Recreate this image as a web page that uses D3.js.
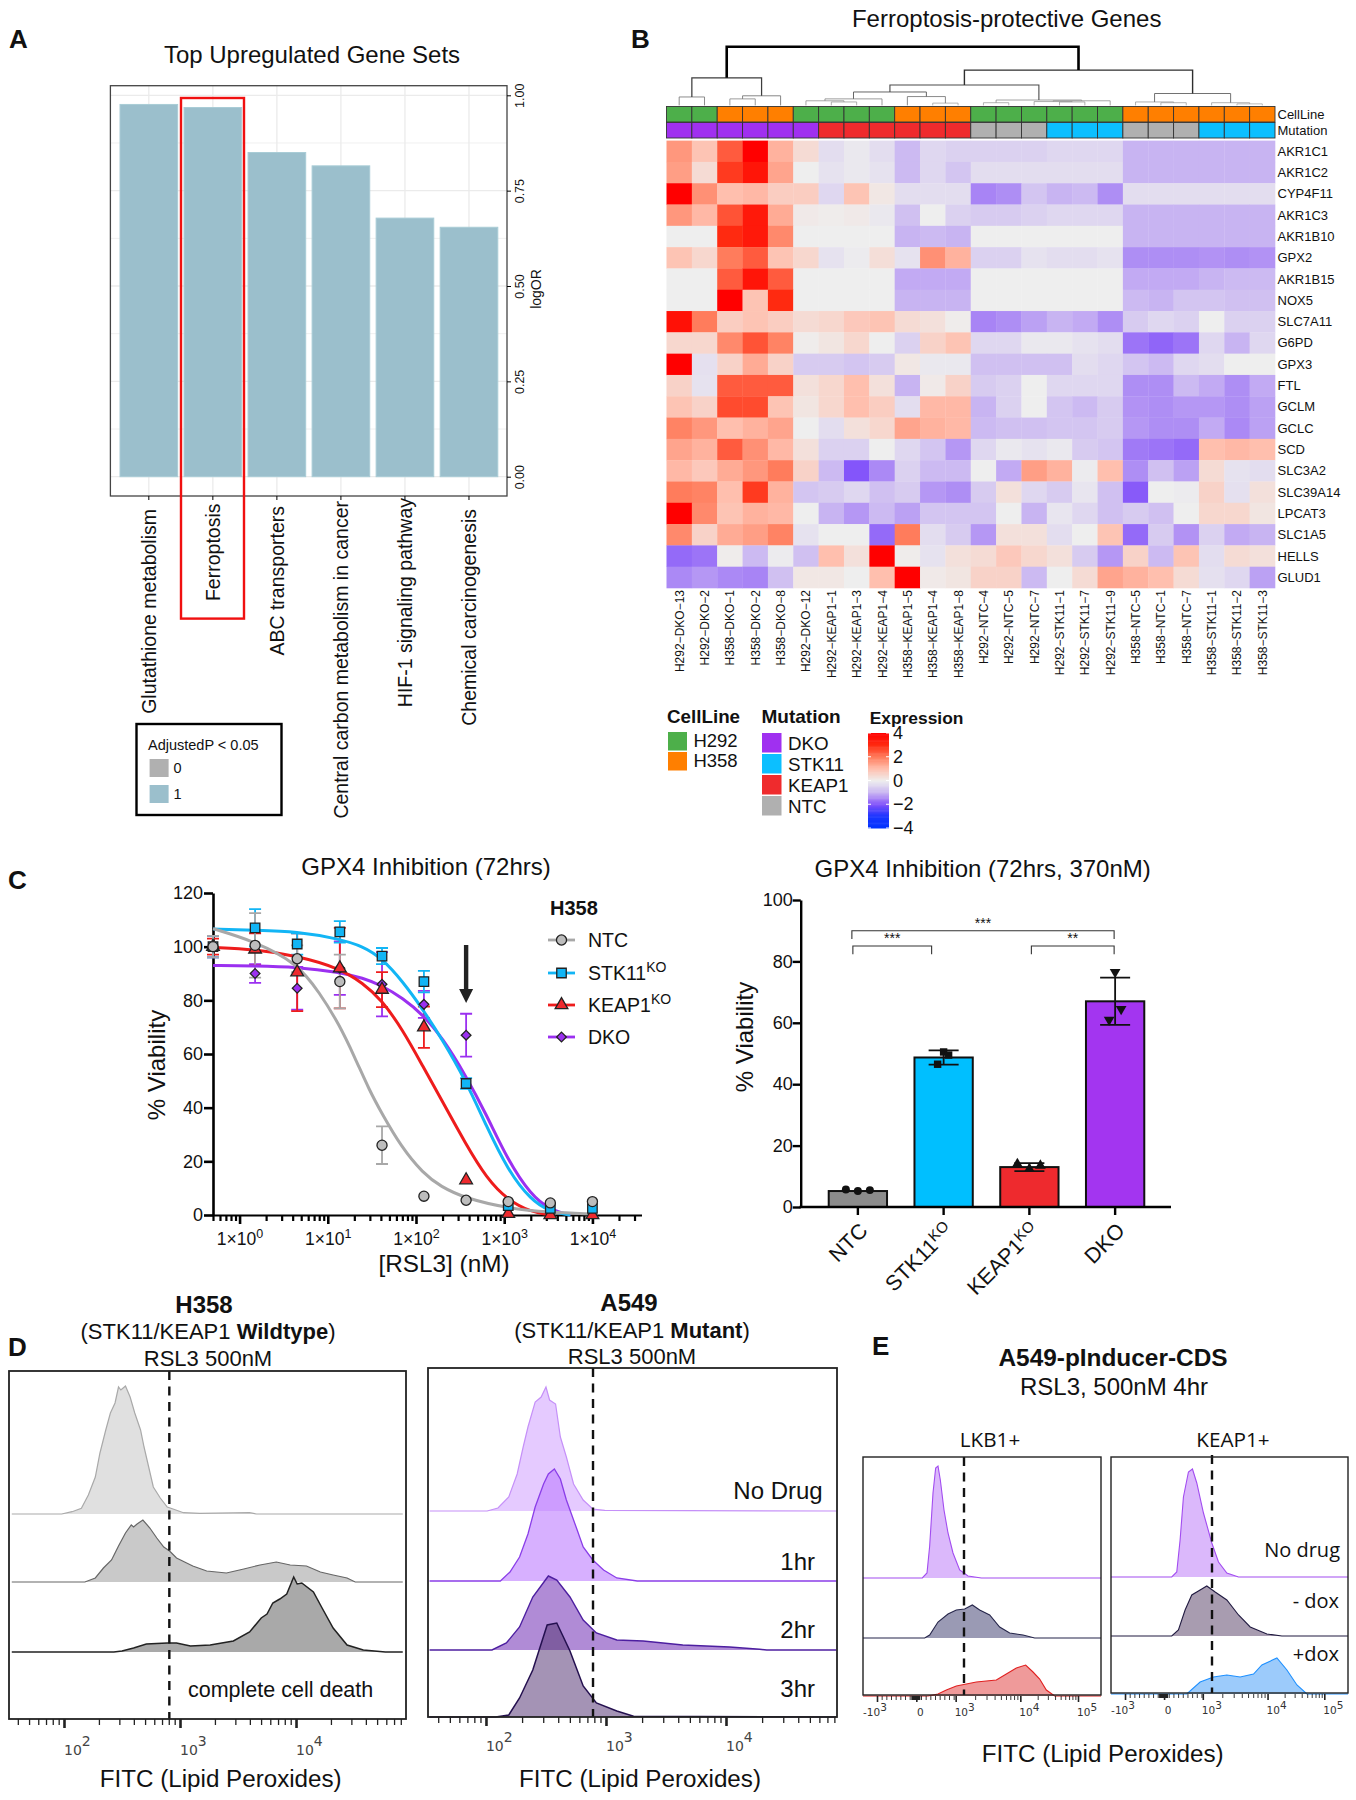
<!DOCTYPE html>
<html><head><meta charset="utf-8">
<script src="https://cdn.jsdelivr.net/npm/d3@7/dist/d3.min.js"></script>
<style>html,body{margin:0;padding:0;background:#fff}svg{display:block}text{font-family:"Liberation Sans",Arial,sans-serif;fill:#111}</style>
</head><body><svg id="fig" width="1356" height="1800" viewBox="0 0 1356 1800"></svg>
<script>
// ---------- Panel A data
const geneSets=["Glutathione metabolism","Ferroptosis","ABC transporters","Central carbon metabolism in cancer","HIF-1 signaling pathway","Chemical carcinogenesis"];
const logOR=[0.976,0.968,0.85,0.815,0.678,0.654];
const logORTicks=[0,0.25,0.5,0.75,1];
const logORMinor=[0.125,0.375,0.625,0.875];
// ---------- Panel B data
const sampleNames=["H292-DKO-13","H292-DKO-2","H358-DKO-1","H358-DKO-2","H358-DKO-8","H292-DKO-12","H292-KEAP1-1","H292-KEAP1-3","H292-KEAP1-4","H358-KEAP1-5","H358-KEAP1-4","H358-KEAP1-8","H292-NTC-4","H292-NTC-5","H292-NTC-7","H292-STK11-1","H292-STK11-7","H292-STK11-9","H358-NTC-5","H358-NTC-1","H358-NTC-7","H358-STK11-1","H358-STK11-2","H358-STK11-3"];
const geneNames=["AKR1C1","AKR1C2","CYP4F11","AKR1C3","AKR1B10","GPX2","AKR1B15","NOX5","SLC7A11","G6PD","GPX3","FTL","GCLM","GCLC","SCD","SLC3A2","SLC39A14","LPCAT3","SLC1A5","HELLS","GLUD1"];
const expression=[
[1.6,.9,2.4,4,1.2,.4,-.3,-.1,-.3,-.9,-.4,-.5,-.5,-.5,-.5,-.4,-.4,-.4,-1,-1,-1,-1,-1,-1],
[1.5,.4,2.8,3.5,1.4,0,-.2,-.1,-.2,-.9,-.4,-.7,-.3,-.3,-.3,-.3,-.3,-.3,-1,-1,-1,-1,-1,-1],
[4,1.7,1,1.1,.7,.7,-.4,.9,.15,-.3,-.3,-.3,-1.5,-1.4,-.7,-1,-.9,-1.4,-.3,-.3,-.3,-.3,-.3,-.3],
[1.6,1.1,2.5,3.4,1.3,.1,.05,.1,-.1,-.8,0,-.5,-.6,-.6,-.5,-.4,-.4,-.4,-1,-1,-1,-1,-1,-1],
[0,0,3,3.4,1.8,0,0,0,0,-1,-.9,-1,0,0,0,0,0,0,-1,-1,-1,-1,-1,-1],
[.9,.5,2,2.4,.9,.5,-.2,-.05,.35,-.2,1.7,1.2,-.5,-.5,-.2,-.3,-.3,-.2,-1.4,-1.4,-1.4,-1.35,-1.4,-1.35],
[0,0,2.4,3.5,2.4,0,0,0,0,-1.1,-1.1,-1.1,0,0,0,0,0,0,-1.1,-1.1,-1.1,-1,-.9,-.9],
[0,0,4,.9,3,0,0,0,0,-1,-1,-1,0,0,0,0,0,0,-.9,-1,-.7,-.7,-.8,-.8],
[3.6,2,.7,.9,.7,.4,.5,.8,.9,.4,.3,.05,-1.5,-1.4,-1.2,-1,-1.1,-1.4,-.6,-.4,-.5,0,-.5,-.5],
[.5,.5,1.8,2.5,1.9,.05,.2,.5,0,-.5,.6,.9,-.4,-.4,-.1,-.1,-.2,-.3,-1.65,-1.8,-1.65,-.4,-1,-.4],
[4,-.25,.6,1.3,.6,-.6,-.6,-.7,-.6,.15,-.1,-.1,-.8,-.8,-.8,-.8,-.3,-.4,-.7,-.9,-.4,-.3,0,0],
[.6,-.2,2.4,2.4,2.4,.3,.5,1,.3,-1,.1,.6,-.6,-.5,0,-.4,-.4,-.4,-1.4,-1.4,-.9,-1.1,-1.4,-1.1],
[.9,.6,2.6,2.6,.9,.2,.5,1,.7,-.3,1.1,1.1,-1,-.5,0,-.7,-.9,-.6,-1.35,-1.4,-1.3,-1.3,-1.4,-1.2],
[1.9,1.6,1,1.2,1.4,0,-.3,.3,.5,1.4,1.2,1.1,-.9,-.8,-.8,-.7,-.7,-.6,-1.3,-1.4,-1.4,-1.1,-1.45,-1.2],
[1.4,1.2,2.4,1.7,1.1,.3,-.5,-.5,0,-.4,-.7,-1.3,-.4,-.1,-.2,-.1,-.6,-.7,-1.6,-1.65,-1.75,1,1.1,1],
[1.1,.8,1.3,1.6,2,.6,-.9,-1.95,-1.45,-.5,-.9,-.9,0,-1.1,1.5,1.2,-.05,1,-1.4,-.8,-1.2,.4,-.2,-.3],
[2,1.9,1,2.8,1.2,-.7,-.6,-.4,-.8,-.6,-1.3,-1.4,-.6,.3,-.4,-.6,-.15,-.8,-1.9,0,-.05,.6,-.25,.3],
[4,1.8,.9,1.2,1.1,0,-1,-1.3,-.9,-1.2,-.7,-.7,-.7,0,-1,-.15,-.4,-.8,-.6,-.8,0,.5,.5,.2],
[1.8,.6,1.3,1.5,1.9,-.2,0,0,-1.75,2,-.3,-.6,-1.3,.3,.3,-.3,0,.9,-1.75,-.6,-1.35,-.5,-1.1,-1],
[-1.75,-1.65,.05,-.9,-.05,-.8,1,.3,4,.05,-.2,.3,.4,.8,.5,.3,-.6,-1.3,.6,-.9,.9,-.3,.4,.3],
[-1.45,-1.3,-1.45,-1.5,-.8,.15,.15,0,1,4,.1,.2,.6,.6,-.9,0,.4,1.4,1.2,1,.4,-.25,-.4,-1.2]];
const expressionStops=[-4,-3,-2,-1.5,-1,0,1,2,3,4];
const expressionColors=["#0033ff","#1a35ff","#8050fa","#a884f5","#c8b4f2","#eeeeee","#ffbfae","#ff7c5c","#ff2a10","#ff0000"];
// dendrogram merges: [child, child, height]; a number is a leaf, "nK" is merge K
const merges=[[0,1,22],[2,3,17],["n1",4,25],["n0","n2",72],[6,7,9],[5,"n4",12],["n5",8,17],[10,11,6],[9,"n7",23],["n6","n8",35],[12,13,7],[15,16,9],[14,"n11",10],["n12",17,12],["n10","n13",14],["n9","n14",53],[19,20,7],[18,"n16",9],[22,23,4],[21,"n18",7],["n17","n19",31],["n15","n20",92],["n3","n21",153]];
const cellLines=["H292","H358"];
const mutations=["DKO","STK11","KEAP1","NTC"];
// ---------- Panel C data
const rsl3Dose=[0.5,1.5,4.5,13.7,41.2,123,370,1111,3333,10000];
const ntcMean=[100,100.5,95.5,87,26,7,5.5,5,4.5,5], ntcErr=[4,12,5,10,7,0,0,0,0,0];
const stkMean=[100,107,101,105.5,96.5,87,49,3.5,2.5,2.5], stkErr=[4,7,4,4,3,4,2,0,0,0];
const keapMean=[100,99,90.5,92,84,70,13,.5,0,0], keapErr=[3,6,14.5,15,6.5,7.7,0,0,0,0];
const dkoMean=[100,90,84.5,92,86,78.5,67], dkoErr=[4,3.5,8,10,12,5,8];
const ntcCurve=[[-.3,106.7],[.17,102],[.65,94],[.91,82.7],[1.13,71],[1.31,58.5],[1.47,46.6],[1.61,38],[1.83,25.5],[2.08,15.5],[2.28,10.6],[2.56,6.2],[3.04,2.5],[3.52,.9],[3.99,.4]];
const stkCurve=[[-.3,106.6],[.17,106.1],[.65,105.7],[1.13,102.9],[1.4,100.1],[1.61,95.8],[1.85,87],[2.08,76.5],[2.3,65.3],[2.56,50.4],[2.8,33],[3.04,16.8],[3.3,5.6],[3.52,1.2],[3.75,0]];
const dkoCurve=[[-.3,93],[.17,92.8],[.65,92.4],[1.13,90.5],[1.4,88.3],[1.61,85.6],[1.85,80.8],[2.08,74.6],[2.3,66],[2.56,52.2],[2.8,37.3],[3.04,20.5],[3.3,7.5],[3.52,1.9],[3.75,0]];
const keapCurve=[[-.3,99.7],[.17,99],[.65,96.6],[1.13,92],[1.4,86.4],[1.61,80.2],[1.85,69],[2.08,55.3],[2.28,43.5],[2.56,26.7],[2.8,13.7],[3.04,5.6],[3.3,1.2],[3.52,0]];
const viabilityTicks=[0,20,40,60,80,100,120];
// ---------- Panel C right data
const barGroups=["NTC","STK11","KEAP1","DKO"];
const barMeans=[5.2,48.7,13,67];
const barErrs=[0,2.3,1.3,7.7];
const barReplicates=[[5.7,5.2,5.5],[50.5,49.5,46.5],[14,12.4,13.5],[76.5,64.5,61]];
const barTicks=[0,20,40,60,80,100];
const brackets=[["NTC","DKO",90,"***"],["NTC","STK11",85,"***"],["KEAP1","DKO",85,"**"]];
// ---------- Panel D data: [log10 FITC, count]
const h358None=[[1.98,0],[2.07,2.3],[2.15,5.7],[2.21,19],[2.27,37],[2.31,61],[2.36,84],[2.40,101],[2.44,111],[2.47,127],[2.49,124],[2.51,126],[2.53,128],[2.57,117],[2.61,101],[2.66,84],[2.69,67],[2.73,47],[2.77,27],[2.83,16],[2.89,7],[2.94,5],[3.03,1.3],[3.17,.7],[3.60,1.3],[3.66,0]];
const h358Mid=[[2.18,0],[2.27,4],[2.34,14],[2.41,22],[2.47,36],[2.53,49],[2.58,57],[2.60,55],[2.63,58],[2.68,62],[2.74,54],[2.80,44],[2.86,35],[2.91,31],[2.97,24],[3.04,20],[3.11,16],[3.23,11],[3.40,9],[3.55,13],[3.69,17],[3.83,20],[3.95,17],[4.09,16],[4.21,10],[4.32,7],[4.44,4],[4.51,0]];
const h358Late=[[2.43,0],[2.50,1],[2.60,4],[2.71,8],[2.89,9],[2.97,9],[3.09,6],[3.26,7],[3.46,11],[3.60,20],[3.70,34],[3.75,38],[3.80,49],[3.86,53],[3.92,58],[3.98,75],[4.01,68],[4.05,69],[4.15,60],[4.22,45],[4.32,24],[4.44,7],[4.58,2],[4.77,0]];
const a549None=[[2.01,0],[2.10,3],[2.19,14],[2.26,37],[2.31,64],[2.35,84],[2.41,109],[2.46,114],[2.50,124],[2.53,111],[2.58,107],[2.62,74],[2.67,54],[2.73,27],[2.81,11],[2.89,2],[2.99,.7]];
const a5491hr=[[2.12,0],[2.20,9],[2.28,24],[2.35,47],[2.41,74],[2.48,97],[2.52,107],[2.57,112],[2.62,102],[2.67,81],[2.76,51],[2.81,34],[2.89,21],[2.98,11],[3.09,3],[3.26,0]];
const a5492hr=[[2.05,0],[2.17,7],[2.28,23],[2.39,53],[2.52,74],[2.59,70],[2.70,53],[2.81,30],[2.92,17],[3.09,10],[3.31,9],[3.64,5],[4.03,3],[4.28,.7],[4.34,0]];
const a5493hr=[[2.08,0],[2.19,2],[2.28,19],[2.39,47],[2.51,92],[2.59,94],[2.70,66],[2.81,31],[2.92,14],[3.09,6],[3.23,.7]];
const decadeTicks=[2,3,4];
// ---------- Panel E data: [display channel, count]
const lkbNoDrug=[[178,0],[192,5],[200,32],[210,85],[218,110],[225,112],[232,98],[243,68],[255,45],[270,25],[290,8],[315,2],[355,0]];
const lkbMinus=[[185,0],[200,3],[225,16],[255,24],[280,28],[305,29],[328,33],[350,28],[380,23],[410,11],[440,5],[480,3],[515,0]];
const lkbPlus=[[195,0],[225,2],[250,6],[280,10],[340,14],[400,16],[430,22],[460,28],[488,31],[510,24],[530,17],[550,6],[575,0]];
const keapNoDrug=[[182,0],[197,5],[207,37],[217,80],[232,105],[244,108],[257,94],[277,64],[302,34],[322,15],[347,4],[382,0]];
const keapMinus=[[182,0],[202,6],[222,26],[242,41],[267,46],[287,50],[312,44],[347,36],[382,21],[417,9],[467,2],[512,0]];
const keapPlus=[[227,0],[267,12],[307,17],[347,19],[387,17],[427,20],[452,29],[497,36],[527,24],[557,9],[587,0]];
const biexTickLabels=["-10","0","10","10","10"], biexTickExp=["3","","3","4","5"];
const biexTickChannels=[42,160,278,472,645];
const biexTickChannelsRight=[42,159,275,469,639];

const svg=d3.select("#fig");
function T(g,x,y,s,o={}){const t=g.append("text").attr("x",x).attr("y",y).text(s).attr("font-size",o.size||14).attr("text-anchor",o.anchor||"start");
  if(o.weight)t.attr("font-weight",o.weight); if(o.family)t.style("font-family",o.family); if(o.fill)t.style("fill",o.fill); if(o.rot!==undefined)t.attr("transform",`rotate(${o.rot},${x},${y})`); return t;}
function sup(t,s,size,dy){t.append("tspan").attr("dy",dy).attr("font-size",size).text(s);return t;}
function styleAxis(g,size){g.attr("font-size",size).attr("font-family","Liberation Sans");g.selectAll("text").style("fill","#111");return g;}

// ===== Panel labels
[["A",9,48],["B",631,48],["C",8,889],["D",8,1356],["E",872,1355]].forEach(d=>T(svg,d[1],d[2],d[0],{size:26,weight:"bold"}));

// ===== Panel A
(function(){const g=svg.append("g");
 const x=d3.scaleBand().domain(geneSets).range([116.8,501]).paddingInner(.1).paddingOuter(.05);
 const y=d3.scaleLinear().domain([0,1]).range([476.7,95.3]);
 T(g,312,63,"Top Upregulated Gene Sets",{size:24,anchor:"middle"});
 logORMinor.forEach(v=>g.append("line").attr("x1",111).attr("x2",507).attr("y1",y(v)).attr("y2",y(v)).attr("stroke","#f0f0f0"));
 logORTicks.forEach(v=>g.append("line").attr("x1",111).attr("x2",507).attr("y1",y(v)).attr("y2",y(v)).attr("stroke","#ebebeb").attr("stroke-width",1.3));
 geneSets.forEach(c=>{const cx=x(c)+x.bandwidth()/2;g.append("line").attr("x1",cx).attr("x2",cx).attr("y1",86).attr("y2",496).attr("stroke","#ebebeb").attr("stroke-width",1.3);});
 g.selectAll("rect.b").data(geneSets).enter().append("rect").attr("x",d=>x(d)).attr("width",x.bandwidth()).attr("y",(d,i)=>y(logOR[i])).attr("height",(d,i)=>y(0)-y(logOR[i])).attr("fill","#9bbfcc").attr("stroke","#a9ccd6");
 g.append("rect").attr("x",110.4).attr("y",85.7).attr("width",396.6).attr("height",410.3).attr("fill","none").attr("stroke","#444").attr("stroke-width",1.3);
 const ax=g.append("g").attr("transform","translate(507,0)").call(d3.axisRight(y).tickValues(logORTicks).tickFormat(d3.format(".2f")).tickSize(4).tickSizeOuter(0));
 ax.select(".domain").remove(); styleAxis(ax,12.5);
 ax.selectAll("text").attr("transform","rotate(-90)").attr("x",0).attr("y",13).attr("dy",".32em").attr("text-anchor","middle");
 T(g,541,289,"logOR",{size:14,anchor:"middle",rot:-90});
 const tops=[509,503.5,506,501,498,509];
 const ax2=g.append("g").attr("transform","translate(0,496)").call(d3.axisBottom(x).tickSize(4).tickSizeOuter(0).tickFormat(""));
 ax2.select(".domain").remove();
 geneSets.forEach((c,i)=>T(g,x(c)+x.bandwidth()/2+7,tops[i],c,{size:19.5,anchor:"end",rot:-90}));
 g.append("rect").attr("x",181).attr("y",98).attr("width",63).attr("height",520.6).attr("fill","none").attr("stroke","#f01010").attr("stroke-width",2.4);
 g.append("rect").attr("x",136.5).attr("y",724).attr("width",145).attr("height",91).attr("fill","#fff").attr("stroke","#000").attr("stroke-width",2.4);
 T(g,148,750,"AdjustedP < 0.05",{size:14.5});
 [[759,"#b0b0b0","0"],[785,"#9bbfcc","1"]].forEach(d=>{g.append("rect").attr("x",149.6).attr("y",d[0]).attr("width",19).attr("height",18).attr("fill",d[1]);T(g,173.5,d[0]+14,d[2],{size:14.5});});
})();

// ===== Panel B
(function(){const g=svg.append("g");
 const x=d3.scaleBand().domain(d3.range(sampleNames.length)).range([666.5,1275]);
 const yH=d3.scaleBand().domain(geneNames).range([140.6,588]);
 const col=d3.scaleLinear().domain(expressionStops).range(expressionColors);
 const lineCol=d3.scaleOrdinal().domain(cellLines).range(["#4daf4a","#ff7f00"]);
 const mutCol=d3.scaleOrdinal().domain(mutations).range(["#a030f0","#0cbfff","#ef2b2d","#b0b0b0"]);
 T(g,1006.7,27,"Ferroptosis-protective Genes",{size:24,anchor:"middle"});
 // dendrogram
 const yD=d3.scaleLinear().domain([0,153]).range([105.4,46.7]);
 const nodes=[];
 const pos=k=>typeof k==="number"?{x:x(k)+x.bandwidth()/2,h:0}:nodes[+k.slice(1)];
 const w=d3.scaleLinear().domain([0,92,153]).range([.7,1.4,2.6]);
 const dc=d3.scaleLinear().domain([0,40,153]).range(["#aaa","#555","#000"]);
 merges.forEach(m=>{const a=pos(m[0]),b=pos(m[1]);nodes.push({x:(a.x+b.x)/2,h:m[2]});
  g.append("path").attr("fill","none").attr("stroke",dc(m[2])).attr("stroke-width",w(m[2]))
   .attr("d",d3.line()([[a.x,yD(a.h)],[a.x,yD(m[2])],[b.x,yD(m[2])],[b.x,yD(b.h)]]));});
 // annotations
 sampleNames.forEach((s,i)=>{const p=s.split("-");
  g.append("rect").attr("x",x(i)).attr("y",106.5).attr("width",x.bandwidth()).attr("height",15.5).attr("fill",lineCol(p[0])).attr("stroke","#333").attr("stroke-width",.9);
  g.append("rect").attr("x",x(i)).attr("y",122.5).attr("width",x.bandwidth()).attr("height",15.5).attr("fill",mutCol(p[1])).attr("stroke","#333").attr("stroke-width",.9);
  T(g,x(i)+x.bandwidth()/2+4.5,590,s.replace(/-/g,"\u2212"),{size:12,anchor:"end",rot:-90});
 });
 T(g,1277.5,118.5,"CellLine",{size:13}); T(g,1277.5,134.5,"Mutation",{size:13});
 geneNames.forEach((n,r)=>{sampleNames.forEach((s,c)=>{
  g.append("rect").attr("x",x(c)).attr("y",yH(n)).attr("width",x.bandwidth()+.3).attr("height",yH.bandwidth()+.3).attr("fill",col(expression[r][c]));});
  T(g,1277.5,yH(n)+yH.bandwidth()/2+4.5,n,{size:13});});
 // legends
 T(g,667,723,"CellLine",{size:18.8,weight:"bold"});
 cellLines.forEach((c,i)=>{g.append("rect").attr("x",668).attr("y",732+i*20).attr("width",19).attr("height",18.5).attr("fill",lineCol(c));T(g,693.4,747+i*20,c,{size:18.5});});
 T(g,761.5,723,"Mutation",{size:19,weight:"bold"});
 mutations.forEach((c,i)=>{g.append("rect").attr("x",762).attr("y",733+i*21).attr("width",19.5).attr("height",19.5).attr("fill",mutCol(c));T(g,788,750+i*21,c,{size:18.8});});
 T(g,869.7,724,"Expression",{size:17.4,weight:"bold"});
 const yC=d3.scaleLinear().domain([4,-4]).range([733,828]);
 d3.range(-4,4,.1).forEach(v=>g.append("rect").attr("x",868).attr("y",yC(v+.1)).attr("width",21).attr("height",yC(v)-yC(v+.1)+.5).attr("fill",col(v+.05)));
 [-4,-2,0,2,4].forEach(v=>{[[868,871],[886,889]].forEach(k=>g.append("line").attr("x1",k[0]).attr("x2",k[1]).attr("y1",yC(v)).attr("y2",yC(v)).attr("stroke","#fff"));
  T(g,893,yC(v)+6,v<0?"\u2212"+(-v):String(v),{size:18});});
})();

// ===== Panel C left
(function(){const g=svg.append("g");
 const x=d3.scaleLog().domain([.5,36000]).range([213,641.5]);
 const y=d3.scaleLinear().domain([0,120]).range([1215,893]);
 T(g,426,875,"GPX4 Inhibition (72hrs)",{size:24,anchor:"middle"});
 T(g,157,1065,"% Viability",{size:24,anchor:"middle",rot:-90}).attr("dy",8);
 T(g,444,1272,"[RSL3] (nM)",{size:24.3,anchor:"middle"});
 const ax=g.append("g").attr("transform","translate(213,0)").call(d3.axisLeft(y).tickValues(viabilityTicks).tickSize(9).tickSizeOuter(0));
 styleAxis(ax,18); ax.selectAll("line,path").attr("stroke","#000").attr("stroke-width",2.6); ax.selectAll("text").attr("x",-10);
 const minor=[];[0,1,2,3,4].forEach(k=>[1,2,3,4,5,6,7,8,9].forEach(m=>{const v=m*Math.pow(10,k);if(m>1&&v<36000)minor.push(v);}));
 minor.push(.6,.7,.8,.9,.5);
 const bx=g.append("g").attr("transform","translate(0,1215)");
 bx.call(d3.axisBottom(x).tickValues(minor).tickSize(6).tickSizeOuter(0).tickFormat(""));
 bx.selectAll("line,path").attr("stroke","#000").attr("stroke-width",2.2);
 const mx=g.append("g").attr("transform","translate(0,1215)").call(d3.axisBottom(x).tickValues([1,10,100,1000,10000]).tickSize(9).tickSizeOuter(0).tickPadding(9));
 mx.select(".domain").remove(); styleAxis(mx,17.5); mx.selectAll("line").attr("stroke","#000").attr("stroke-width",2.6);
 mx.selectAll(".tick text").each(function(d,i){const t=d3.select(this).text("1\u00d710");sup(t,String(i),12.5,-7);});
 const line=d3.line().x(d=>x(Math.pow(10,d[0]))).y(d=>y(d[1])).curve(d3.curveBasis);
 const series=[
  {n:"DKO",c:"#9b30f0",m:dkoMean,e:dkoErr,cv:dkoCurve,sym:d3.symbolDiamond2,f:"#9b30f0",ss:60},
  {n:"KEAP1",c:"#ee1c1c",m:keapMean,e:keapErr,cv:keapCurve,sym:d3.symbolTriangle,f:"#ee2a2e",ss:70},
  {n:"STK11",c:"#12b5f5",m:stkMean,e:stkErr,cv:stkCurve,sym:d3.symbolSquare,f:"#12b5f5",ss:90},
  {n:"NTC",c:"#a8a8a8",m:ntcMean,e:ntcErr,cv:ntcCurve,sym:d3.symbolCircle,f:"#bdbdbd",ss:80}];
 series.forEach(s=>{
  s.m.forEach((v,i)=>{if(!s.e[i])return;const X=x(rsl3Dose[i]);const hi=y(v+s.e[i]),lo=y(v-s.e[i]);
   g.append("path").attr("fill","none").attr("stroke",s.c).attr("stroke-width",1.8)
    .attr("d",d3.line()([[X-6,hi],[X+6,hi]])+d3.line()([[X,hi],[X,lo]])+d3.line()([[X-6,lo],[X+6,lo]]));});
 });
 series.forEach(s=>g.append("path").attr("d",line(s.cv)).attr("fill","none").attr("stroke",s.c).attr("stroke-width",3));
 series.forEach(s=>{s.m.forEach((v,i)=>g.append("path").attr("d",d3.symbol(s.sym,s.ss)()).attr("transform",`translate(${x(rsl3Dose[i])},${y(v)})`).attr("fill",s.f).attr("stroke","#222").attr("stroke-width",1.3));});
 // arrow
 const ax0=x(rsl3Dose[6]);
 g.append("path").attr("d",d3.line()([[ax0-2.2,945],[ax0+2.2,945],[ax0+2.2,989],[ax0+7,989],[ax0,1003],[ax0-7,989],[ax0-2.2,989]])+"Z").attr("fill","#222");
 // legend
 T(g,550,915,"H358",{size:20,weight:"bold"});
 [[940,"NTC","",3],[973,"STK11","KO",2],[1005,"KEAP1","KO",1],[1037,"DKO","",0]].forEach(d=>{const s=series[d[3]];
  g.append("line").attr("x1",548).attr("x2",575).attr("y1",d[0]).attr("y2",d[0]).attr("stroke",s.c).attr("stroke-width",2.8);
  g.append("path").attr("d",d3.symbol(s.sym,s.ss)()).attr("transform",`translate(561.5,${d[0]})`).attr("fill",s.f).attr("stroke","#222").attr("stroke-width",1.3);
  const t=T(g,588,d[0]+7,d[1],{size:19.5}); if(d[2])sup(t,d[2],14,-8);});
})();

// ===== Panel C right
(function(){const g=svg.append("g");
 const x=d3.scaleBand().domain(barGroups).range([815,1158]).paddingInner(.32).paddingOuter(.16);
 const y=d3.scaleLinear().domain([0,100]).range([1207,900]);
 const fills=["#8c8c8c","#00bfff","#ee2a2e","#a335f0"];
 T(g,982.7,877,"GPX4 Inhibition (72hrs, 370nM)",{size:24,anchor:"middle"});
 T(g,745,1037,"% Viability",{size:24,anchor:"middle",rot:-90}).attr("dy",8);
 barGroups.forEach((c,i)=>{g.append("rect").attr("x",x(c)).attr("width",x.bandwidth()).attr("y",y(barMeans[i])).attr("height",y(0)-y(barMeans[i])).attr("fill",fills[i]).attr("stroke","#111").attr("stroke-width",2);});
 const syms=[d3.symbolCircle,d3.symbolSquare,d3.symbolTriangle,d3.symbolTriangle];
 const off=[[-12,0,12],[0,5,-6],[-12,0,11],[0,6,-6]];
 barGroups.forEach((c,i)=>{const cx=x(c)+x.bandwidth()/2;
  if(barErrs[i]){const hi=y(barMeans[i]+barErrs[i]),lo=y(barMeans[i]-barErrs[i]);
   g.append("path").attr("fill","none").attr("stroke","#111").attr("stroke-width",1.8).attr("d",d3.line()([[cx-15,hi],[cx+15,hi]])+d3.line()([[cx,hi],[cx,lo]])+d3.line()([[cx-15,lo],[cx+15,lo]]));}
  barReplicates[i].forEach((v,j)=>g.append("path").attr("d",d3.symbol(syms[i],i==1?55:50)()).attr("transform",`translate(${cx+off[i][j]},${y(v)})${i==3?" rotate(180)":""}`).attr("fill","#111"));
 });
 const ay=g.append("g").attr("transform","translate(800.7,0)").call(d3.axisLeft(y).tickValues(barTicks).tickSize(8).tickSizeOuter(0));
 styleAxis(ay,18); ay.selectAll("line,path").attr("stroke","#000").attr("stroke-width",2.4); ay.selectAll("text").attr("x",-8);
 const ax=g.append("g").attr("transform",`translate(0,${y(0)})`).call(d3.axisBottom(x).tickSize(8).tickSizeOuter(0).tickFormat(""));
 ax.select(".domain").remove(); ax.selectAll("line").attr("stroke","#000").attr("stroke-width",2.4);
 g.append("line").attr("x1",799.5).attr("x2",1171).attr("y1",y(0)).attr("y2",y(0)).attr("stroke","#000").attr("stroke-width",2.6);
 barGroups.forEach((c,i)=>{const cx=x(c)+x.bandwidth()/2;const t=T(g,cx+11,1232,c,{size:21.5,anchor:"end",rot:-45}); if(i==1||i==2)sup(t,"KO",15,-7);});
 const dx0={NTC:-6,STK11:-12,KEAP1:2,DKO:-1};
 brackets.forEach((b,i)=>{const a=x(b[0])+x.bandwidth()/2+(i==1?-5:dx0[b[0]]),e=x(b[1])+x.bandwidth()/2+dx0[b[1]],Y=y(b[2]),tip=y(b[2]-2.7);
  g.append("path").attr("fill","none").attr("stroke","#333").attr("stroke-width",1.1).attr("d",d3.line()([[a,tip],[a,Y],[e,Y],[e,tip]]));
  T(g,(a+e)/2,Y-3,b[3],{size:14,anchor:"middle"});});
})();

// ===== Histogram helpers
function hist(g,x,base,pts,fill,stroke,sw,left,right,op){
 const y=d3.scaleLinear().domain([0,130]).range([base,base-130]);
 const full=[[left,0]].concat(pts).concat([[right,0]]);
 g.append("path").attr("d",d3.area().x(d=>x(d[0])).y0(base).y1(d=>y(d[1]))(pts)).attr("fill",fill).attr("fill-opacity",op===undefined?1:op);
 g.append("path").attr("d",d3.line().x(d=>x(d[0])).y(d=>y(d[1]))(full)).attr("fill","none").attr("stroke",stroke).attr("stroke-width",sw);
}
function decadeAxis(g,xs,yb,labY){
 const lo=xs.domain()[0],hi=xs.domain()[1];
 const minor=[];[1,2,3,4,5].forEach(k=>[2,3,4,5,6,7,8,9].forEach(m=>{const v=m*Math.pow(10,k);if(Math.log10(v)>lo&&Math.log10(v)<hi)minor.push(Math.log10(v));}));
 const a=g.append("g").attr("transform",`translate(0,${yb})`).call(d3.axisBottom(xs).tickValues(minor).tickSize(6).tickSizeOuter(0).tickFormat(""));
 a.select(".domain").remove(); a.selectAll("line").attr("stroke","#222").attr("stroke-width",1.3);
 const b=g.append("g").attr("transform",`translate(0,${yb})`).call(d3.axisBottom(xs).tickValues(decadeTicks).tickSize(9).tickSizeOuter(0).tickFormat(""));
 b.select(".domain").remove(); b.selectAll("line").attr("stroke","#222").attr("stroke-width",2.6);
 decadeTicks.forEach(d=>{const t=T(g,xs(d),labY,"10",{size:14,family:"DejaVu Sans",fill:"#444"});sup(t,String(d),14,-9);});
}
function dash(g,X,y1,y2){g.append("line").attr("x1",X).attr("x2",X).attr("y1",y1).attr("y2",y2).attr("stroke","#111").attr("stroke-width",2.4).attr("stroke-dasharray","9,6.5");}

// ===== Panel D left
(function(){const g=svg.append("g");
 const x=d3.scaleLinear().domain([1.526,4.948]).range([9,406]);
 T(g,204,1312.7,"H358",{size:24,weight:"bold",anchor:"middle"});
 const t=T(g,208,1339,"(STK11/KEAP1 ",{size:22,anchor:"middle"}); t.append("tspan").attr("font-weight","bold").text("Wildtype"); t.append("tspan").text(")");
 T(g,208,1366,"RSL3 500nM",{size:22,anchor:"middle"});
 hist(g,x,1514,h358None,"#e0e0e0","#a9a9a9",1.2,1.55,4.92);
 hist(g,x,1582,h358Mid,"#c9c9c9","#666",1.2,1.55,4.92);
 hist(g,x,1652,h358Late,"#a9a9a9","#222",1.5,1.55,4.92);
 dash(g,x(2.908),1371,1719);
 T(g,188,1696.7,"complete cell death",{size:21.5});
 g.append("rect").attr("x",9).attr("y",1371).attr("width",397).attr("height",348).attr("fill","none").attr("stroke","#222").attr("stroke-width",1.8);
 decadeAxis(g,x,1719,1755);
 T(g,220.7,1787,"FITC (Lipid Peroxides)",{size:24.2,anchor:"middle"});
})();
// ===== Panel D right
(function(){const g=svg.append("g");
 const x=d3.scaleLinear().domain([1.517,4.925]).range([428,837]);
 T(g,629,1311,"A549",{size:24,weight:"bold",anchor:"middle"});
 const t=T(g,632,1338,"(STK11/KEAP1 ",{size:22,anchor:"middle"}); t.append("tspan").attr("font-weight","bold").text("Mutant"); t.append("tspan").text(")");
 T(g,632,1364,"RSL3 500nM",{size:22,anchor:"middle"});
 hist(g,x,1511,a549None,"#dcb8ff","#c590f8",1.2,1.53,4.92,.75);
 hist(g,x,1581,a5491hr,"#bf80ff","#8a3ee8",1.3,1.53,4.92,.62);
 hist(g,x,1650,a5492hr,"#8f5ac4","#4d1fa0",1.4,1.53,4.92,.7);
 hist(g,x,1717,a5493hr,"#5a3a78","#24104f",1.5,1.53,4.92,.55);
 dash(g,x(2.892),1368,1717);
 [["No Drug",1499],["1hr",1570],["2hr",1638],["3hr",1697]].forEach((d,i)=>T(g,i?815:822.7,d[1],d[0],{size:24,anchor:"end"}));
 g.append("rect").attr("x",428).attr("y",1368).attr("width",409).attr("height",349).attr("fill","none").attr("stroke","#222").attr("stroke-width",1.8);
 decadeAxis(g,x,1717,1751);
 T(g,640,1786.7,"FITC (Lipid Peroxides)",{size:24.2,anchor:"middle"});
})();
// ===== Panel E
function biexAxis(g,x,yb,labY,ticks){
 const minor=[];
 for(let v=ticks[0];v<ticks[1]-4;v+=14)minor.push(v);
 for(let v=ticks[1];v<ticks[2]-1;v+=14)minor.push(v);
 [[2,3],[3,4]].forEach(p=>[2,3,4,5,6,7,8,9].forEach(m=>minor.push(ticks[p[0]]+(ticks[p[1]]-ticks[p[0]])*Math.log10(m))));
 const a=g.append("g").attr("transform",`translate(0,${yb})`).call(d3.axisBottom(x).tickValues(minor).tickSize(4).tickSizeOuter(0).tickFormat(""));
 a.select(".domain").remove(); a.selectAll("line").attr("stroke","#222").attr("stroke-width",.9);
 const b=g.append("g").attr("transform",`translate(0,${yb})`).call(d3.axisBottom(x).tickValues(ticks).tickSize(6).tickSizeOuter(0).tickFormat(""));
 b.select(".domain").remove(); b.selectAll("line").attr("stroke","#222").attr("stroke-width",1.6);
 g.append("rect").attr("x",x(ticks[1])-5).attr("y",yb).attr("width",9).attr("height",4).attr("fill","#222");
 const dxs=[-2,4,-1,-1,-1];
 ticks.forEach((c,i)=>{const t=T(g,x(c)+dxs[i],labY,biexTickLabels[i],{size:10.5,anchor:i<=1?"middle":"start",family:"DejaVu Sans",fill:"#333"}); if(biexTickExp[i])sup(t,biexTickExp[i],10.5,-5);});
}
(function(){const g=svg.append("g");
 T(g,1113,1366,"A549-pInducer-CDS",{size:24.4,weight:"bold",anchor:"middle"});
 T(g,1114,1395,"RSL3, 500nM 4hr",{size:24,anchor:"middle"});
 const of="Open Sans";
 T(g,990,1447,"LKB1+",{size:20.7,anchor:"middle",family:of});
 T(g,1233,1447,"KEAP1+",{size:20.7,anchor:"middle",family:of});
 const xL=d3.scaleLinear().domain([0,714]).range([863,1101]);
 const xR=d3.scaleLinear().domain([0,710]).range([1111,1348]);
 hist(g,xL,1578,lkbNoDrug,"#dbb8fb","#a24cf0",1.1,0,714);
 hist(g,xL,1638,lkbMinus,"#9a9ab4","#25254a",1.1,0,714);
 hist(g,xL,1696,lkbPlus,"#ef9a9a","#e02020",1.1,0,714);
 hist(g,xR,1577,keapNoDrug,"#dbb8fb","#a24cf0",1.1,0,710);
 hist(g,xR,1636,keapMinus,"#a89cb0","#201a40",1.1,0,710);
 hist(g,xR,1694,keapPlus,"#9ccbfb","#1e90ff",1.1,0,710);
 dash(g,964,1457,1695); dash(g,1212,1455,1693);
 g.append("rect").attr("x",863).attr("y",1457).attr("width",238).attr("height",238).attr("fill","none").attr("stroke","#222").attr("stroke-width",1.4);
 g.append("rect").attr("x",1111).attr("y",1457).attr("width",237).attr("height",236).attr("fill","none").attr("stroke","#222").attr("stroke-width",1.4);
 biexAxis(g,xL,1696,1716,biexTickChannels);
 biexAxis(g,xR,1694,1714,biexTickChannelsRight);
 T(g,1340,1557,"No drug",{size:20,anchor:"end",family:of});
 T(g,1339,1608,"- dox",{size:20,anchor:"end",family:of});
 T(g,1339,1661,"+dox",{size:20,anchor:"end",family:of});
 T(g,1102.7,1762,"FITC (Lipid Peroxides)",{size:24.2,anchor:"middle"});
})();
</script></body></html>
